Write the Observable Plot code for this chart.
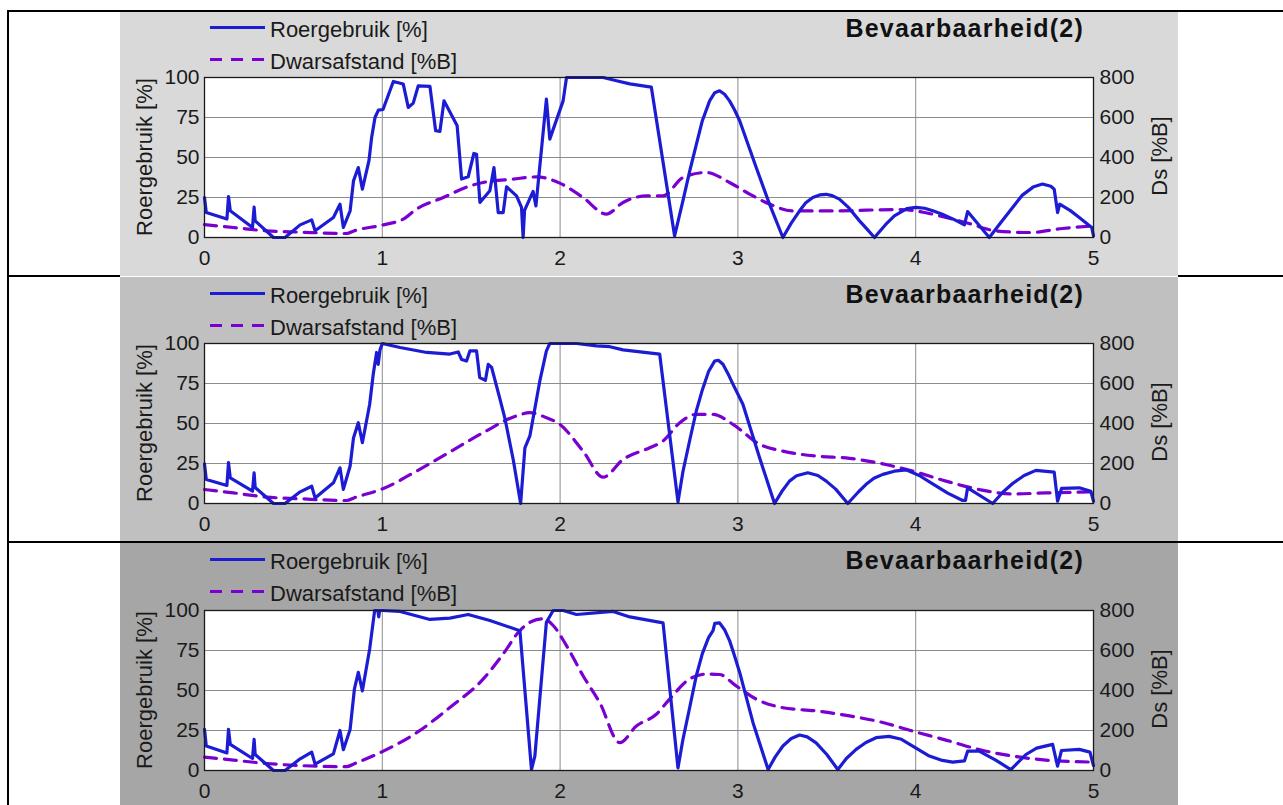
<!DOCTYPE html>
<html>
<head>
<meta charset="utf-8">
<script src="https://cdn.jsdelivr.net/npm/d3@7"></script>
<script src="https://cdn.jsdelivr.net/npm/@observablehq/plot@0.6"></script>
<style>
  html, body { margin: 0; padding: 0; background: #fff; }
  body { width: 1283px; height: 805px; overflow: hidden; position: relative; font-family: "Liberation Sans", Arial, sans-serif; }
  .b { position: absolute; background: #000; }
  .panel { position: absolute; left: 120px; width: 1058px; overflow: hidden; }
  .panel svg { position: absolute; left: 0; top: 0; }
</style>
</head>
<body>
<script>
// ---------- data (x 0..5, Roergebruik in %, Dwarsafstand in %B) ----------
const xTicks = [0, 1, 2, 3, 4, 5];
const yTicks = [0, 25, 50, 75, 100];
const dsTicks = [0, 200, 400, 600, 800];
const panelColors = ["#d9d9d9", "#c0c0c0", "#a6a6a6"];
const titleText = "Bevaarbaarheid(2)";
const legendRoer = "Roergebruik [%]";
const legendDs = "Dwarsafstand [%B]";
const yLabelLeft = "Roergebruik [%]";
const yLabelRight = "Ds [%B]";

const roer1 = [[0,25],[0.01,15.6],[0.126,11.5],[0.135,25.6],[0.145,16.7],[0.27,6.3],[0.279,19],[0.285,10.4],[0.388,0],[0.453,0],[0.538,7.9],[0.603,11],[0.622,4.2],[0.725,12.5],[0.762,20.8],[0.781,6.3],[0.819,16.7],[0.838,35.4],[0.865,43.7],[0.888,30.2],[0.925,48],[0.94,62.5],[0.959,75],[0.978,79.6],[1.004,80],[1.062,97.5],[1.118,95.9],[1.146,81.3],[1.174,84],[1.202,94.8],[1.268,94.4],[1.3,66.7],[1.324,66.3],[1.347,85.4],[1.421,69.8],[1.446,36.5],[1.483,37.9],[1.515,52.5],[1.53,52],[1.549,21.9],[1.605,29.2],[1.628,43.7],[1.652,15.6],[1.68,15.6],[1.699,31.7],[1.755,26],[1.783,18.8],[1.792,0],[1.8,17],[1.848,28.8],[1.864,19.8],[1.923,86.5],[1.942,61.5],[2.017,85.4],[2.036,100],[2.242,100],[2.317,98],[2.392,96],[2.513,94],[2.644,1],[2.691,23],[2.73,42],[2.766,58],[2.80,73],[2.841,85.4],[2.87,90.5],[2.897,91.7],[2.925,89.5],[2.953,85.4],[2.98,80],[3.01,73],[3.103,43.7],[3.178,20.8],[3.253,0],[3.30,9],[3.347,16.7],[3.38,21.5],[3.421,25],[3.46,26.6],[3.497,27],[3.53,26.2],[3.571,24],[3.62,19],[3.684,10.4],[3.72,6],[3.768,0],[3.83,8],[3.88,13.5],[3.95,18],[4.002,18.8],[4.05,18.3],[4.096,16.7],[4.15,14.5],[4.22,11],[4.274,7.9],[4.292,16.2],[4.414,0],[4.48,9.5],[4.545,18.8],[4.6,26.5],[4.66,31.5],[4.713,33.4],[4.76,32],[4.779,30.2],[4.798,15.6],[4.81,20.8],[4.87,16.8],[4.92,12.5],[4.99,6.3],[5,1]];
const ds1 = [[0,64],[0.163,50],[0.35,33],[0.53,27],[0.8,20],[0.84,33],[1.006,63],[1.118,92],[1.193,142],[1.343,200],[1.493,258],[1.567,275],[1.736,292],[1.867,303],[1.998,272],[2.129,200],[2.26,117],[2.354,175],[2.485,208],[2.579,208],[2.691,300],[2.822,325],[2.953,275],[3.066,217],[3.178,167],[3.309,133],[3.534,133],[3.909,140],[4.05,125],[4.17,100],[4.3,70],[4.452,33],[4.639,25],[4.826,45],[5,58]];

const roer2 = [[0,24.8],[0.01,15],[0.126,11.3],[0.135,25.5],[0.145,16],[0.27,7.7],[0.279,19.2],[0.285,10],[0.388,0],[0.453,0],[0.538,7.3],[0.603,10.8],[0.622,3.5],[0.725,12.9],[0.762,22.3],[0.781,8.8],[0.819,23.4],[0.838,41],[0.865,50.5],[0.888,38],[0.929,62],[0.949,80.8],[0.968,94.4],[0.977,87],[0.987,96],[1.0,100],[1.1,97.5],[1.25,94.4],[1.38,93.4],[1.427,94.7],[1.446,90],[1.474,89],[1.493,95.4],[1.53,95.4],[1.548,78.7],[1.58,77],[1.596,87],[1.615,85],[1.66,66],[1.69,53],[1.737,27],[1.778,0],[1.802,34.8],[1.83,42.2],[1.886,76.6],[1.923,95.4],[1.942,100],[2.092,100],[2.205,98.5],[2.28,98],[2.354,96],[2.56,93.4],[2.663,1],[2.691,20],[2.73,40],[2.766,57.8],[2.80,71],[2.835,82.5],[2.869,89],[2.89,89.5],[2.916,87],[2.945,81],[2.972,74.6],[3.028,62],[3.122,28.6],[3.206,0],[3.25,8],[3.29,14],[3.33,17.3],[3.393,19.2],[3.45,17.5],[3.497,14],[3.55,9],[3.618,0],[3.68,7.5],[3.721,12],[3.765,15.8],[3.815,18.2],[3.88,20.2],[3.946,21],[4.02,17.5],[4.1,12],[4.18,6.5],[4.264,1.9],[4.28,1.9],[4.292,9.8],[4.433,0],[4.49,7],[4.545,12.5],[4.61,17.5],[4.676,20.7],[4.779,19.6],[4.798,1.4],[4.82,9.4],[4.92,9.8],[4.985,7.7],[5,1.4]];
const ds2 = [[0,70],[0.163,53],[0.35,32],[0.53,24],[0.8,15],[0.84,28],[1.006,75],[1.193,162],[1.38,258],[1.567,354],[1.755,438],[1.83,454],[1.923,429],[1.998,396],[2.129,262],[2.242,132],[2.354,220],[2.504,279],[2.579,312],[2.673,404],[2.766,446],[2.86,446],[2.972,396],[3.122,296],[3.253,262],[3.44,237],[3.628,226],[3.815,198],[3.983,162],[4.17,112],[4.357,70],[4.545,48],[4.732,53],[5,58]];

const roer3 = [[0,25.7],[0.01,15.3],[0.126,11],[0.135,25.7],[0.145,16.3],[0.27,7.5],[0.279,19.5],[0.285,10],[0.388,0],[0.453,0],[0.538,7.3],[0.603,11.5],[0.622,4],[0.725,10.4],[0.762,25],[0.781,13],[0.819,25.7],[0.843,50.8],[0.865,61.3],[0.888,49.8],[0.929,76],[0.957,100],[0.975,100],[0.98,96],[0.985,100],[1.0,100],[1.1,99.4],[1.268,94.4],[1.38,95.2],[1.483,97.5],[1.605,93.7],[1.774,87.4],[1.839,0.6],[1.858,9],[1.923,92.7],[1.961,100],[2.017,100],[2.092,97.5],[2.298,99.4],[2.392,96],[2.579,92.3],[2.663,1.6],[2.691,19.5],[2.73,40],[2.766,59.2],[2.80,73],[2.835,83],[2.86,87.4],[2.87,92],[2.897,92.3],[2.925,88],[2.953,81.2],[2.98,72],[3.01,61.3],[3.085,29.9],[3.17,0.6],[3.21,8.5],[3.253,15.3],[3.30,20],[3.347,22.2],[3.39,21],[3.44,17.3],[3.50,10],[3.562,0.6],[3.61,7.5],[3.665,13.2],[3.72,17.5],[3.777,20.5],[3.85,21.3],[3.92,19.5],[3.983,15.3],[4.077,9],[4.15,6.3],[4.208,5.2],[4.274,6],[4.292,12.1],[4.357,12.1],[4.45,6.5],[4.535,0.6],[4.58,5.5],[4.62,10],[4.68,14],[4.77,16.3],[4.798,2.7],[4.82,12.5],[4.92,13.2],[4.98,11.5],[5,3]];
const ds3 = [[0,67],[0.163,52],[0.35,35],[0.53,25],[0.8,19],[0.84,33],[1.006,97],[1.193,189],[1.38,315],[1.567,457],[1.68,583],[1.774,700],[1.839,745],[1.904,758],[1.961,725],[2.036,624],[2.129,474],[2.223,339],[2.335,139],[2.429,222],[2.541,281],[2.616,357],[2.728,457],[2.822,482],[2.897,480],[2.99,423],[3.103,357],[3.253,314],[3.44,298],[3.628,273],[3.815,240],[3.983,197],[4.17,152],[4.357,105],[4.545,72],[4.732,52],[5,42]];

const panels = [
  {top: 11, height: 265, mt: 66, roer: roer1, ds: ds1},
  {top: 277, height: 264, mt: 66, roer: roer2, ds: ds2},
  {top: 543, height: 262, mt: 67, roer: roer3, ds: ds3}
];

// ---------- table borders ----------
function border(l, t, w, h) {
  const d = document.createElement("div");
  d.className = "b";
  Object.assign(d.style, {left: l + "px", top: t + "px", width: w + "px", height: h + "px"});
  document.body.appendChild(d);
}

const FONT = "'Liberation Sans', Arial, Helvetica, sans-serif";
const BLUE = "#1c1cd4";
const PURPLE = "#7a00d2";
const W = 1058;

panels.forEach((p, i) => {
  const div = document.createElement("div");
  div.className = "panel";
  Object.assign(div.style, {top: p.top + "px", height: p.height + "px", background: panelColors[i]});
  document.body.appendChild(div);

  const roer = p.roer.map(([x, v]) => ({x, v}));
  const ds = p.ds.map(([x, v]) => ({x, v}));
  const H = 265;

  const chart = Plot.plot({
    width: W, height: H,
    marginLeft: 84, marginRight: 85, marginTop: p.mt, marginBottom: H - p.mt - 160,
    style: {background: "transparent", fontFamily: FONT, fontSize: "21px", color: "#1a1a1a", overflow: "visible"},
    x: {domain: [0, 5], label: null},
    y: {domain: [0, 100], label: null},
    marks: [
      Plot.frame({fill: "white", stroke: "none"}),
      Plot.gridX(xTicks.slice(1, -1), {stroke: "#8c8c8c", strokeOpacity: 1, strokeWidth: 1}),
      Plot.gridY(yTicks.slice(1, -1), {stroke: "#8c8c8c", strokeOpacity: 1, strokeWidth: 1}),
      Plot.axisX(xTicks, {tickSize: 0, tickPadding: 13, fontSize: 21, label: null, tickFormat: d => String(d)}),
      Plot.axisY(yTicks, {anchor: "left", tickSize: 0, tickPadding: 5, fontSize: 21, label: null}),
      Plot.axisY(yTicks, {anchor: "right", tickSize: 0, tickPadding: 6, fontSize: 21, label: null,
        tickFormat: d => String(dsTicks[yTicks.indexOf(d)])}),
      Plot.line(ds, {x: "x", y: d => d.v / 8, stroke: PURPLE, strokeWidth: 3.2, strokeDasharray: "12,8", curve: "monotone-x"}),
      Plot.line(roer, {x: "x", y: "v", stroke: BLUE, strokeWidth: 3.2, strokeLinejoin: "round"}),
      Plot.frame({stroke: "#1a1a1a", strokeWidth: 1.3})
    ]
  });
  div.appendChild(chart);

  // overlay with legend, title and axis labels (real text)
  const ns = "http://www.w3.org/2000/svg";
  const ov = document.createElementNS(ns, "svg");
  ov.setAttribute("width", W);
  ov.setAttribute("height", H);
  ov.style.pointerEvents = "none";
  ov.innerHTML = `
    <line x1="90" y1="16.5" x2="145" y2="16.5" stroke="${BLUE}" stroke-width="3"/>
    <line x1="90" y1="48.5" x2="145" y2="48.5" stroke="${PURPLE}" stroke-width="3" stroke-dasharray="12,9"/>
    <text x="150" y="25.5" font-family="${FONT}" font-size="22" fill="#1a1a1a">${legendRoer}</text>
    <text x="150" y="57.5" font-family="${FONT}" font-size="22" fill="#1a1a1a">${legendDs}</text>
    <text x="964" y="25.5" text-anchor="end" font-family="${FONT}" font-size="25" font-weight="bold" letter-spacing="1.2" fill="#111">${titleText}</text>
    <text transform="translate(32,${p.mt + 80}) rotate(-90)" text-anchor="middle" font-family="${FONT}" font-size="22" fill="#1a1a1a">${yLabelLeft}</text>
    <text transform="translate(1047,${p.mt + 79}) rotate(-90)" text-anchor="middle" font-family="${FONT}" font-size="22" fill="#1a1a1a">${yLabelRight}</text>
  `;
  div.appendChild(ov);
});

border(7, 10, 1276, 2);
border(7, 10, 2, 795);
border(7, 275, 113, 2);
border(1178, 275, 105, 2);
border(7, 541, 1276, 2);
</script>
</body>
</html>
